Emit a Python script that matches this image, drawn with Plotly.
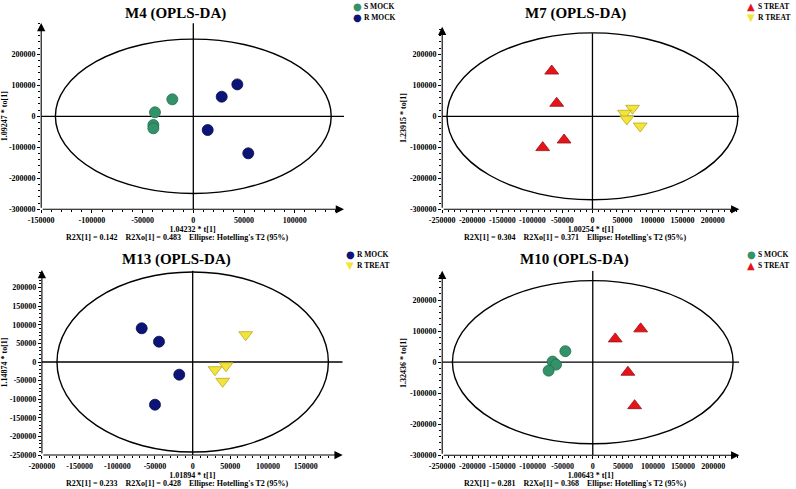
import plotly.graph_objects as go

# ---------------- data ----------------
M4_S_MOCK_t = [-20700, -37800, -39400, -39400]
M4_S_MOCK_to = [54800, 12900, -28000, -38700]
M4_R_MOCK_t = [43400, 28000, 14200, 54200]
M4_R_MOCK_to = [103000, 63200, -44200, -119400]

M7_S_TREAT_t = [-67800, -59500, -47200, -82800]
M7_S_TREAT_to = [146000, 42000, -76500, -101000]
M7_R_TREAT_t = [66700, 53300, 57200, 79400]
M7_R_TREAT_to = [25800, 9700, -8700, -31300]

M13_R_MOCK_t = [-67600, -44700, -17800, -50000]
M13_R_MOCK_to = [90600, 54600, -34100, -114800]
M13_R_TREAT_t = [70300, 44200, 29600, 39800]
M13_R_TREAT_to = [73400, -9900, -20700, -51900]

M10_S_MOCK_t = [-45500, -66700, -61000, -73300]
M10_S_MOCK_to = [35500, 2000, -7700, -27100]
M10_S_TREAT_t = [37300, 79500, 58300, 69500]
M10_S_TREAT_to = [75200, 107500, -32300, -140000]

titles = ["M4 (OPLS-DA)", "M7 (OPLS-DA)", "M13 (OPLS-DA)", "M10 (OPLS-DA)"]
x_titles = ["1.04232 * t[1]", "1.00254 * t[1]", "1.01894 * t[1]", "1.00643 * t[1]"]
y_titles = ["1.09247 * to[1]", "1.23915 * to[1]", "1.14874 * to[1]", "1.32436 * to[1]"]
footers = [
    "R2X[1] = 0.142    R2Xo[1] = 0.483    Ellipse: Hotelling's T2 (95%)",
    "R2X[1] = 0.304    R2Xo[1] = 0.371    Ellipse: Hotelling's T2 (95%)",
    "R2X[1] = 0.233    R2Xo[1] = 0.428    Ellipse: Hotelling's T2 (95%)",
    "R2X[1] = 0.281    R2Xo[1] = 0.368    Ellipse: Hotelling's T2 (95%)",
]
# ellipse half axes (Hotelling's T2)
ellipse_a = [136000, 242000, 180000, 233000]
ellipse_b = [249000, 269000, 242000, 263000]

xt_vals = [
    [-150000, -100000, -50000, 0, 50000, 100000],
    [-250000, -200000, -150000, -100000, -50000, 0, 50000, 100000, 150000, 200000],
    [-200000, -150000, -100000, -50000, 0, 50000, 100000, 150000],
    [-250000, -200000, -150000, -100000, -50000, 0, 50000, 100000, 150000, 200000],
]
xt_text = [
    ["-150000", "-100000", "-50000", "0", "50000", "100000"],
    ["-250000", "-200000", "-150000", "-100000", "-50000", "0", "50000", "100000", "150000", "200000"],
    ["-200000", "-150000", "-100000", "-50000", "0", "50000", "100000", "150000"],
    ["-250000", "-200000", "-150000", "-100000", "-50000", "0", "50000", "100000", "150000", "200000"],
]
yt_vals = [
    [-300000, -200000, -100000, 0, 100000, 200000],
    [-300000, -200000, -100000, 0, 100000, 200000],
    [-250000, -200000, -150000, -100000, -50000, 0, 50000, 100000, 150000, 200000],
    [-300000, -200000, -100000, 0, 100000, 200000],
]
yt_text = [
    ["-300000", "-200000", "-100000", "0", "100000", "200000"],
    ["-300000", "-200000", "-100000", "0", "100000", "200000"],
    ["-250000", "-200000", "-150000", "-100000", "-50000", "0", "50000", "100000", "150000", "200000"],
    ["-300000", "-200000", "-100000", "0", "100000", "200000"],
]

# ---------------- layout geometry ----------------
W, H = 796, 489
x_ranges = [[-150000, 148600], [-250000, 244300], [-200000, 199000], [-250000, 243300]]
y_ranges = [[-300000, 301000], [-300000, 289000], [-250000, 247300], [-300000, 295000]]
vline_top = [300000, 268000, 245000, 295000]
x_dom_px = [[41.2, 344], [442.2, 739.3], [41.9, 342.7], [442.2, 739.3]]
y_dom_px = [[23, 209.3], [26.7, 209.3], [270, 455], [270.7, 455.3]]
x_minor = [10000, 10000, 10000, 10000]
y_minor = [20000, 20000, 10000, 20000]

title_pos = [(175.7, 13.3), (575.3, 13.3), (176.7, 259), (574.7, 259)]
footer_pos = [(176.7, 237.5), (574.5, 237.5), (176.7, 483.3), (574.5, 483.3)]
legend_pos = [(357, 6.5), (751, 6.5), (350, 254.7), (751, 254.7)]

FONT = "Liberation Serif, Times New Roman, serif"
GREEN, NAVY, RED, YELLOW = "#33926a", "#0c1577", "#e5141b", "#f3e43c"

series = [
    [("S MOCK", M4_S_MOCK_t, M4_S_MOCK_to, "circle", GREEN, "#1f6e4b", 11),
     ("R MOCK", M4_R_MOCK_t, M4_R_MOCK_to, "circle", NAVY, "#050a45", 11)],
    [("S TREAT", M7_S_TREAT_t, M7_S_TREAT_to, "triangle-up", RED, "#9a0c10", 12),
     ("R TREAT", M7_R_TREAT_t, M7_R_TREAT_to, "triangle-down", YELLOW, "#b9a820", 12)],
    [("R MOCK", M13_R_MOCK_t, M13_R_MOCK_to, "circle", NAVY, "#050a45", 11),
     ("R TREAT", M13_R_TREAT_t, M13_R_TREAT_to, "triangle-down", YELLOW, "#b9a820", 12)],
    [("S MOCK", M10_S_MOCK_t, M10_S_MOCK_to, "circle", GREEN, "#1f6e4b", 11),
     ("S TREAT", M10_S_TREAT_t, M10_S_TREAT_to, "triangle-up", RED, "#9a0c10", 12)],
]
glyph = {"circle": "●", "triangle-up": "▲", "triangle-down": "▼"}

fig = go.Figure()
layout = dict(
    width=W, height=H, margin=dict(l=0, r=0, t=0, b=0, pad=0, autoexpand=False),
    paper_bgcolor="white", plot_bgcolor="white", showlegend=False,
    font=dict(family=FONT, color="black"),
)
shapes, annotations = [], []

for i in range(4):
    n = "" if i == 0 else str(i + 1)
    xa, ya = "x" + n, "y" + n
    xr, yr = x_ranges[i], y_ranges[i]
    layout["xaxis" + n] = dict(
        domain=[x_dom_px[i][0] / W, x_dom_px[i][1] / W], anchor=ya, range=xr,
        automargin=False,
        showgrid=False, zeroline=False, showline=False,
        tickmode="array", tickvals=xt_vals[i], ticktext=xt_text[i],
        ticks="outside", ticklen=3, tickwidth=1, tickcolor="black",
        minor=dict(tickmode="linear", tick0=0, dtick=x_minor[i], ticks="outside",
                   ticklen=2, tickcolor="black", showgrid=False),
        tickfont=dict(family=FONT, size=8, weight="bold"),
        title=dict(text=x_titles[i], font=dict(family=FONT, size=8, weight="bold"), standoff=1),
    )
    layout["yaxis" + n] = dict(
        domain=[1 - y_dom_px[i][1] / H, 1 - y_dom_px[i][0] / H], anchor=xa, range=yr,
        automargin=False,
        showgrid=False, zeroline=False, showline=False,
        tickmode="array", tickvals=yt_vals[i], ticktext=yt_text[i],
        ticks="outside", ticklen=3, tickwidth=1, tickcolor="black",
        minor=dict(tickmode="linear", tick0=0, dtick=y_minor[i], ticks="outside",
                   ticklen=2, tickcolor="black", showgrid=False),
        tickfont=dict(family=FONT, size=8, weight="bold"),
        title=dict(text=y_titles[i], font=dict(family=FONT, size=8, weight="bold"), standoff=2),
    )
    # Hotelling ellipse
    shapes.append(dict(type="circle", xref=xa, yref=ya,
                       x0=-ellipse_a[i], x1=ellipse_a[i], y0=-ellipse_b[i], y1=ellipse_b[i],
                       line=dict(color="black", width=1.4), layer="below"))
    # zero lines
    shapes.append(dict(type="line", xref=xa, yref=ya, x0=xr[0], x1=xr[1], y0=0, y1=0,
                       line=dict(color="black", width=1.3), layer="below"))
    shapes.append(dict(type="line", xref=xa, yref=ya, x0=0, x1=0, y0=yr[0], y1=vline_top[i],
                       line=dict(color="black", width=1.3), layer="below"))
    # axis lines with arrows
    annotations.append(dict(xref=xa, yref=ya, axref=xa, ayref=ya, x=xr[1], y=yr[0],
                            ax=xr[0], ay=yr[0], text="", showarrow=True, arrowhead=2,
                            arrowsize=1.5, arrowwidth=1.1, arrowcolor="black", standoff=0))
    annotations.append(dict(xref=xa, yref=ya, axref=xa, ayref=ya, x=xr[0], y=yr[1],
                            ax=xr[0], ay=yr[0], text="", showarrow=True, arrowhead=2,
                            arrowsize=1.5, arrowwidth=1.1, arrowcolor="black", standoff=0))
    # panel title
    tx, ty = title_pos[i]
    annotations.append(dict(xref="paper", yref="paper", x=tx / W, y=1 - ty / H, text=titles[i],
                            showarrow=False, xanchor="center", yanchor="middle",
                            font=dict(family=FONT, size=15, weight="bold")))
    fx, fy = footer_pos[i]
    annotations.append(dict(xref="paper", yref="paper", x=fx / W, y=1 - fy / H,
                            text=footers[i].replace("    ", "&nbsp;&nbsp;&nbsp;&nbsp;"),
                            showarrow=False, xanchor="center", yanchor="middle",
                            font=dict(family=FONT, size=8, weight="bold")))
    # data traces + legend entries
    lx, ly = legend_pos[i]
    for k, (name, t, to, sym, col, edge, sz) in enumerate(series[i]):
        fig.add_trace(go.Scatter(x=t, y=to, mode="markers", name=name, xaxis=xa, yaxis=ya,
                                 marker=dict(symbol=sym, color=col, size=sz,
                                             line=dict(color=edge, width=0.8))))
        yy = ly + k * 10.6
        annotations.append(dict(xref="paper", yref="paper", x=lx / W, y=1 - yy / H,
                                text=glyph[sym], showarrow=False, xanchor="center",
                                yanchor="middle", borderpad=0,
                                font=dict(family="DejaVu Sans", size=10, color=col)))
        annotations.append(dict(xref="paper", yref="paper", x=(lx + 5.5) / W, y=1 - yy / H,
                                text=name, showarrow=False, xanchor="left", yanchor="middle",
                                borderpad=0,
                                font=dict(family=FONT, size=7.5, weight="bold")))

layout["shapes"] = shapes
layout["annotations"] = annotations
fig.update_layout(**layout)
fig.write_html("out.html", config={"displayModeBar": False},
               post_script="document.body.style.margin='0';document.body.style.overflow='hidden';")
